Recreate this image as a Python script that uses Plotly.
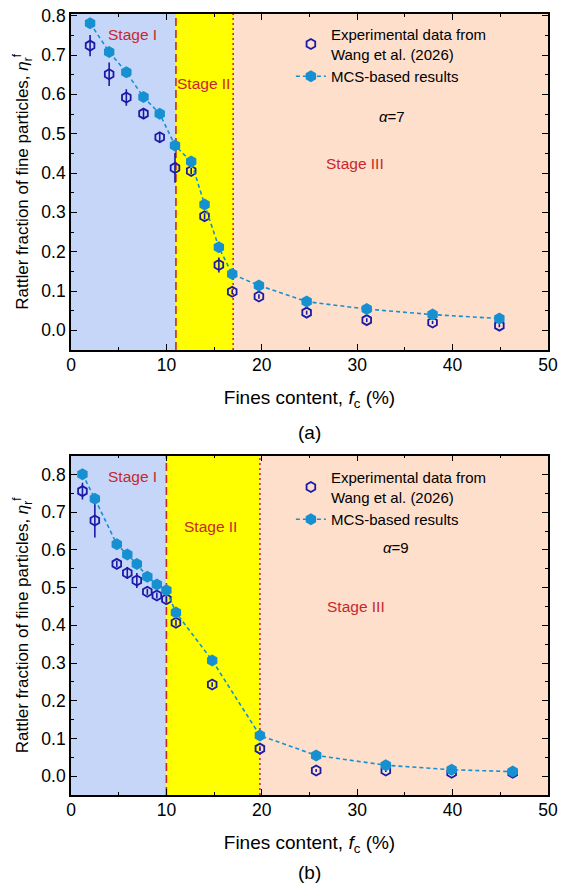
import plotly.graph_objects as go

# ---------------- data ----------------
# Panel (a), alpha = 7
fc_a = [2.0, 4.0, 5.8, 7.6, 9.3, 10.9, 12.6, 14.0, 15.5, 16.9, 19.7, 24.7, 31.0, 37.9, 44.9]
mcs_a = [0.781, 0.708, 0.656, 0.593, 0.551, 0.470, 0.429, 0.320, 0.211, 0.143, 0.114, 0.073, 0.054, 0.040, 0.030]
exp_a = [0.724, 0.651, 0.592, 0.551, 0.491, 0.413, 0.405, 0.290, 0.166, 0.098, 0.086, 0.045, 0.026, 0.020, 0.012]
err_a = [0.027, 0.030, 0.021, 0.012, 0.013, 0.038, 0.008, 0.008, 0.019, 0.006, 0.006, 0.005, 0.005, 0.004, 0.004]
bounds_a = [11, 17]

# Panel (b), alpha = 9
fc_b = [1.2, 2.5, 4.8, 5.9, 6.9, 8.0, 9.0, 10.0, 11.0, 14.8, 19.8, 25.7, 33.0, 39.9, 46.3]
mcs_b = [0.801, 0.736, 0.615, 0.588, 0.563, 0.529, 0.508, 0.493, 0.434, 0.307, 0.108, 0.055, 0.029, 0.017, 0.012]
exp_b = [0.756, 0.678, 0.563, 0.539, 0.519, 0.489, 0.479, 0.469, 0.407, 0.243, 0.073, 0.015, 0.015, 0.009, 0.009]
err_b = [0.022, 0.045, 0.008, 0.016, 0.020, 0.008, 0.008, 0.008, 0.008, 0.006, 0.006, 0.004, 0.004, 0.004, 0.004]
bounds_b = [10, 19.8]

x_ticks = [0, 10, 20, 30, 40, 50]
y_ticks = [0.0, 0.1, 0.2, 0.3, 0.4, 0.5, 0.6, 0.7, 0.8]

# ---------------- styles ----------------
FONT = "Arial, Liberation Sans, sans-serif"
NAVY = "#1A1AA8"
CYAN = "#1690D0"
RED = "#C8282D"
C_I = "#C6D6F8"
C_II = "#FFFF00"
C_III = "#FDDFCB"

fig = go.Figure()

panels = [
    dict(x=fc_a, mcs=mcs_a, exp=exp_a, err=err_a, b=bounds_a, xa="x", ya="y", leg="legend",
         yr=[-0.05, 0.805]),
    dict(x=fc_b, mcs=mcs_b, exp=exp_b, err=err_b, b=bounds_b, xa="x2", ya="y2", leg="legend2",
         yr=[-0.05, 0.85]),
]

shapes = []
annotations = []
for p in panels:
    fig.add_trace(go.Scatter(
        x=p["x"], y=p["exp"], mode="markers", xaxis=p["xa"], yaxis=p["ya"],
        name="Experimental data from<br>Wang et al. (2026)", legend=p["leg"],
        marker=dict(symbol="hexagon-open", size=10, color=NAVY, line=dict(width=1.8, color=NAVY)),
        error_y=dict(type="data", array=p["err"], visible=True, color=NAVY, thickness=1.6, width=0),
    ))
    fig.add_trace(go.Scatter(
        x=p["x"], y=p["mcs"], mode="lines+markers", xaxis=p["xa"], yaxis=p["ya"],
        name="MCS-based results", legend=p["leg"],
        line=dict(color=CYAN, width=1.6, dash="4px,3px"),
        marker=dict(symbol="hexagon", size=12, color=CYAN),
    ))
    b1, b2 = p["b"]
    yref = p["ya"] + " domain"
    for x0, x1, c in [(0, b1, C_I), (b1, b2, C_II), (b2, 50, C_III)]:
        shapes.append(dict(type="rect", xref=p["xa"], yref=yref, x0=x0, x1=x1, y0=0, y1=1,
                           fillcolor=c, line=dict(width=0), layer="below"))
    shapes.append(dict(type="line", xref=p["xa"], yref=yref, x0=b1, x1=b1, y0=0, y1=1,
                       line=dict(color=RED, width=1.6, dash="8px,4px"), layer="below"))
    shapes.append(dict(type="line", xref=p["xa"], yref=yref, x0=b2, x1=b2, y0=0, y1=1,
                       line=dict(color=RED, width=1.6, dash="2px,3px"), layer="below"))

# stage labels and alpha
lab_a = [("Stage I", 6.4, 0.752), ("Stage II", 13.9, 0.627), ("Stage III", 29.8, 0.425)]
lab_b = [("Stage I", 6.4, 0.796), ("Stage II", 14.6, 0.663), ("Stage III", 29.9, 0.451)]
for (t, x, y) in lab_a:
    annotations.append(dict(text=t, x=x, y=y, xref="x", yref="y", showarrow=False,
                            font=dict(size=15.5, color=RED, family=FONT)))
for (t, x, y) in lab_b:
    annotations.append(dict(text=t, x=x, y=y, xref="x2", yref="y2", showarrow=False,
                            font=dict(size=15.5, color=RED, family=FONT)))
annotations.append(dict(text="<i>α</i>=7", x=33.6, y=0.543, xref="x", yref="y", showarrow=False,
                        font=dict(size=15, color="black", family=FONT)))
annotations.append(dict(text="<i>α</i>=9", x=34.1, y=0.607, xref="x2", yref="y2", showarrow=False,
                        font=dict(size=15, color="black", family=FONT)))
# panel captions
annotations.append(dict(text="(a)", x=0.5, y=0.5676, xref="paper", yref="paper", yshift=-82,
                        yanchor="middle", showarrow=False, font=dict(size=19, color="black", family=FONT)))
annotations.append(dict(text="(b)", x=0.5, y=0.0, xref="paper", yref="paper", yshift=-77,
                        yanchor="middle", showarrow=False, font=dict(size=19, color="black", family=FONT)))

axis_common = dict(
    showline=True, linecolor="black", linewidth=1.6, mirror="allticks",
    ticks="inside", ticklen=6, tickwidth=1.4, tickcolor="black",
    showgrid=False, zeroline=False, automargin=False, ticklabeloverflow="allow",
    tickfont=dict(size=17.5, color="black", family=FONT),
)
xax = dict(axis_common, range=[0, 50], tickvals=x_ticks, ticklabelstandoff=-2,
           minor=dict(ticks="inside", ticklen=3, tickwidth=1.2, dtick=5, tick0=0, tickcolor="black"),
           title=dict(text="Fines content, <i>f</i><sub>c</sub> (%)", standoff=17,
                      font=dict(size=19, color="black", family=FONT)))
yax_title = dict(text="Rattler fraction of fine particles, <i>η</i><sub>r</sub><sup>f</sup>", standoff=8,
                 font=dict(size=17, color="black", family=FONT))

# The page body adds an 8 px offset, so margins are reduced by 8 on the left/top.
fig.update_layout(
    width=566, height=884,
    margin=dict(l=63, r=26, t=3, b=97),
    paper_bgcolor="white", plot_bgcolor="white",
    font=dict(family=FONT, color="black"),
    xaxis=dict(xax, domain=[0, 1], anchor="y"),
    yaxis=dict(axis_common, domain=[0.5676, 0.9965], anchor="x", range=panels[0]["yr"],
               tickvals=y_ticks, tickformat=".1f", title=yax_title,
               minor=dict(ticks="inside", ticklen=3, tickwidth=1.2, dtick=0.05, tick0=0, tickcolor="black")),
    xaxis2=dict(xax, domain=[0, 1], anchor="y2"),
    yaxis2=dict(axis_common, domain=[0.0, 0.4328], anchor="x2", range=panels[1]["yr"],
                tickvals=y_ticks, tickformat=".1f", title=yax_title,
                minor=dict(ticks="inside", ticklen=3, tickwidth=1.2, dtick=0.05, tick0=0, tickcolor="black")),
    legend=dict(x=0.461, y=0.991, xanchor="left", yanchor="top", bgcolor="rgba(0,0,0,0)",
                font=dict(size=15, color="black", family=FONT), tracegroupgap=0, itemwidth=30),
    legend2=dict(x=0.461, y=0.426, xanchor="left", yanchor="top", bgcolor="rgba(0,0,0,0)",
                 font=dict(size=15, color="black", family=FONT), tracegroupgap=0, itemwidth=30),
    shapes=shapes, annotations=annotations,
    showlegend=True,
)

fig.write_html("out.html")
